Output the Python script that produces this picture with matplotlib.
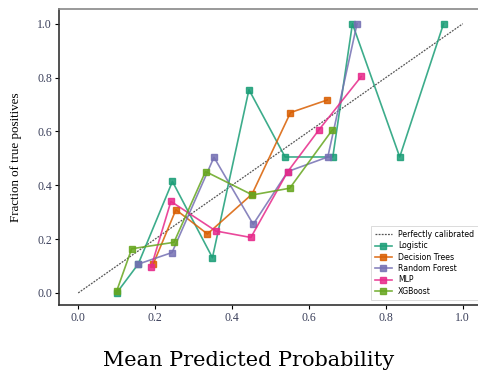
import numpy as np
import matplotlib
matplotlib.use("Agg")
import matplotlib.pyplot as plt

# calibration curves (mean predicted prob, fraction of positives)
log_x = [0.10, 0.156, 0.245, 0.349, 0.444, 0.538, 0.662, 0.713, 0.836, 0.950]
log_y = [0.0, 0.107, 0.414, 0.131, 0.755, 0.505, 0.505, 1.0, 0.505, 1.0]

dt_x = [0.195, 0.254, 0.336, 0.452, 0.552, 0.648]
dt_y = [0.107, 0.309, 0.219, 0.367, 0.670, 0.717]

rf_x = [0.156, 0.244, 0.353, 0.455, 0.545, 0.649, 0.725]
rf_y = [0.107, 0.150, 0.504, 0.255, 0.451, 0.505, 1.0]

mlp_x = [0.190, 0.241, 0.358, 0.449, 0.545, 0.626, 0.736]
mlp_y = [0.098, 0.340, 0.230, 0.206, 0.451, 0.606, 0.804]

xgb_x = [0.100, 0.139, 0.249, 0.331, 0.453, 0.550, 0.661]
xgb_y = [0.007, 0.164, 0.188, 0.451, 0.364, 0.389, 0.606]

series = [
    ("Logistic", log_x, log_y, "#1b9e77"),
    ("Decision Trees", dt_x, dt_y, "#d95f02"),
    ("Random Forest", rf_x, rf_y, "#7570b3"),
    ("MLP", mlp_x, mlp_y, "#e7298a"),
    ("XGBoost", xgb_x, xgb_y, "#66a61e"),
]

fig = plt.figure(figsize=(4.78, 3.72), dpi=100)
ax = fig.add_axes([0.1234, 0.180, 0.885, 0.796])

ax.plot([0, 1], [0, 1], color="#555555", linestyle=(0, (1.5, 1)), linewidth=0.9,
        label="Perfectly calibrated")
for name, xs, ys, col in series:
    ax.plot(xs, ys, marker="s", markersize=4.3, color=col, linewidth=1.2,
            alpha=0.85, label=name)

ax.set_xlim(-0.05, 1.05)
ax.set_ylim(-0.045, 1.055)
ax.set_xticks([0.0, 0.2, 0.4, 0.6, 0.8, 1.0])
ax.set_yticks([0.0, 0.2, 0.4, 0.6, 0.8, 1.0])
for lab in ax.get_xticklabels() + ax.get_yticklabels():
    lab.set_family("Liberation Serif")
    lab.set_fontsize(8.5)
    lab.set_color("#3a3f5a")
ax.tick_params(length=3, width=0.8, pad=2)
for s in ax.spines.values():
    s.set_linewidth(1.2)
    s.set_color("#333333")
ax.spines["top"].set_color("#888888")

ax.set_ylabel("Fraction of true positives", family="Liberation Serif",
              fontsize=9.4)
ax.yaxis.set_label_coords(-0.088, 0.50)

leg = ax.legend(loc="lower right", fontsize=5.6, frameon=True, handlelength=2.2,
                borderpad=0.5, labelspacing=0.3, fancybox=False,
                bbox_to_anchor=(1.0, 0.005))
leg.get_frame().set_linewidth(0.6)

fig.text(0.52, 0.016, "Mean Predicted Probability", family="DejaVu Serif",
         fontsize=15, ha="center", va="baseline")

fig.savefig("out.png", dpi=100)
